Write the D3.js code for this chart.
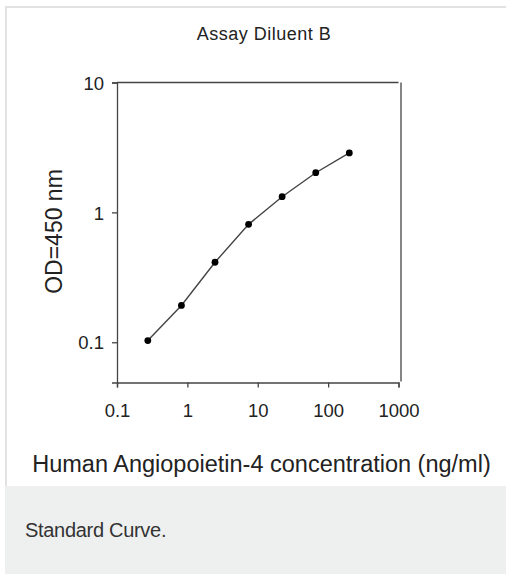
<!DOCTYPE html>
<html>
<head>
<meta charset="utf-8">
<script src="https://cdn.jsdelivr.net/npm/d3@7"></script>
<style>
  body { margin: 0; background: #fff; }
  svg text { font-family: "Liberation Sans", Arial, Helvetica, sans-serif; fill: #222; }
</style>
</head>
<body>
<div id="chart"></div>
<script>

// standard curve data
const concentration = [0.274, 0.823, 2.47, 7.41, 22.2, 66.7, 200];
const od = [0.103, 0.192, 0.413, 0.809, 1.32, 2.02, 2.87];

const xTicks = [0.1, 1, 10, 100, 1000];
const yTicks = [0.1, 1, 10];

const titleText = "Assay Diluent B";
const xLabel = "Human Angiopoietin-4 concentration (ng/ml)";
const yLabel = "OD=450 nm";
const caption = "Standard Curve.";

const W = 506, H = 574;

const svg = d3.select("#chart")
  .append("svg")
  .attr("width", W)
  .attr("height", H);

// card + caption panel
svg.append("rect")
  .attr("x", 6).attr("y", 7)
  .attr("width", W).attr("height", 480)
  .attr("fill", "#fff")
  .attr("stroke", "#e2e2e2")
  .attr("stroke-width", 2);

svg.append("rect")
  .attr("x", 5).attr("y", 486)
  .attr("width", W).attr("height", H - 486)
  .attr("fill", "#eef0ef");

svg.append("text")
  .attr("x", 25)
  .attr("y", 537)
  .style("font-size", "20px")
  .style("letter-spacing", "-0.3px")
  .style("fill", "#333")
  .text(caption);

// scales
const x = d3.scaleLog()
  .domain([0.1, 1000])
  .range([117, 398.5]);

const y = d3.scaleLog()
  .domain([0.049, 10])
  .range([382.5, 82.5]);

const axisColor = "#444";

// title
svg.append("text")
  .attr("x", 264)
  .attr("y", 40)
  .attr("text-anchor", "middle")
  .style("font-size", "18px")
  .style("letter-spacing", "0.5px")
  .text(titleText);

// x axis
const gx = svg.append("g")
  .attr("transform", `translate(0,${y.range()[0]})`)
  .call(d3.axisBottom(x)
    .tickValues(xTicks)
    .tickFormat(d => d >= 1 ? d3.format("d")(d) : d)
    .tickSize(5)
    .tickPadding(16));

// y axis
const gy = svg.append("g")
  .attr("transform", `translate(${x.range()[0]},0)`)
  .call(d3.axisLeft(y)
    .tickValues(yTicks)
    .tickFormat(d => d >= 1 ? d3.format("d")(d) : d)
    .tickSize(5)
    .tickPadding(8));

[gx, gy].forEach(g => {
  g.select(".domain").attr("stroke", axisColor).attr("stroke-width", 1.3);
  g.selectAll(".tick line").attr("stroke", axisColor).attr("stroke-width", 1.3);
  g.selectAll(".tick text")
    .style("font-size", "18.5px")
    .style("font-family", "\"Liberation Sans\", Arial, sans-serif")
    .attr("fill", "#222");
});

gy.selectAll(".tick text").attr("dy", "0.36em");

// frame: top and right lines
svg.append("line")
  .attr("x1", x.range()[0]).attr("x2", x.range()[1])
  .attr("y1", y.range()[1]).attr("y2", y.range()[1])
  .attr("stroke", axisColor).attr("stroke-width", 1.3);

svg.append("line")
  .attr("x1", x.range()[1] + 2.5).attr("x2", x.range()[1] + 2.5)
  .attr("y1", y.range()[1]).attr("y2", y.range()[0] - 1)
  .attr("stroke", axisColor).attr("stroke-width", 1.3);

// axis labels
svg.append("text")
  .attr("x", 261.5)
  .attr("y", 471.5)
  .attr("text-anchor", "middle")
  .style("font-size", "23.5px")
  .text(xLabel);

svg.append("text")
  .attr("transform", "rotate(-90)")
  .attr("x", -231.5)
  .attr("y", 62)
  .attr("text-anchor", "middle")
  .style("font-size", "23px")
  .text(yLabel);

// curve
const pts = concentration.map((c, i) => ({ c: c, v: od[i] }));

const line = d3.line()
  .x(d => x(d.c))
  .y(d => y(d.v));

svg.append("path")
  .datum(pts)
  .attr("fill", "none")
  .attr("stroke", "#444")
  .attr("stroke-width", 1.4)
  .attr("d", line);

svg.selectAll("circle.pt")
  .data(pts)
  .enter()
  .append("circle")
  .attr("class", "pt")
  .attr("cx", d => x(d.c))
  .attr("cy", d => y(d.v))
  .attr("r", 3.4)
  .attr("fill", "#000");

</script>
</body>
</html>
